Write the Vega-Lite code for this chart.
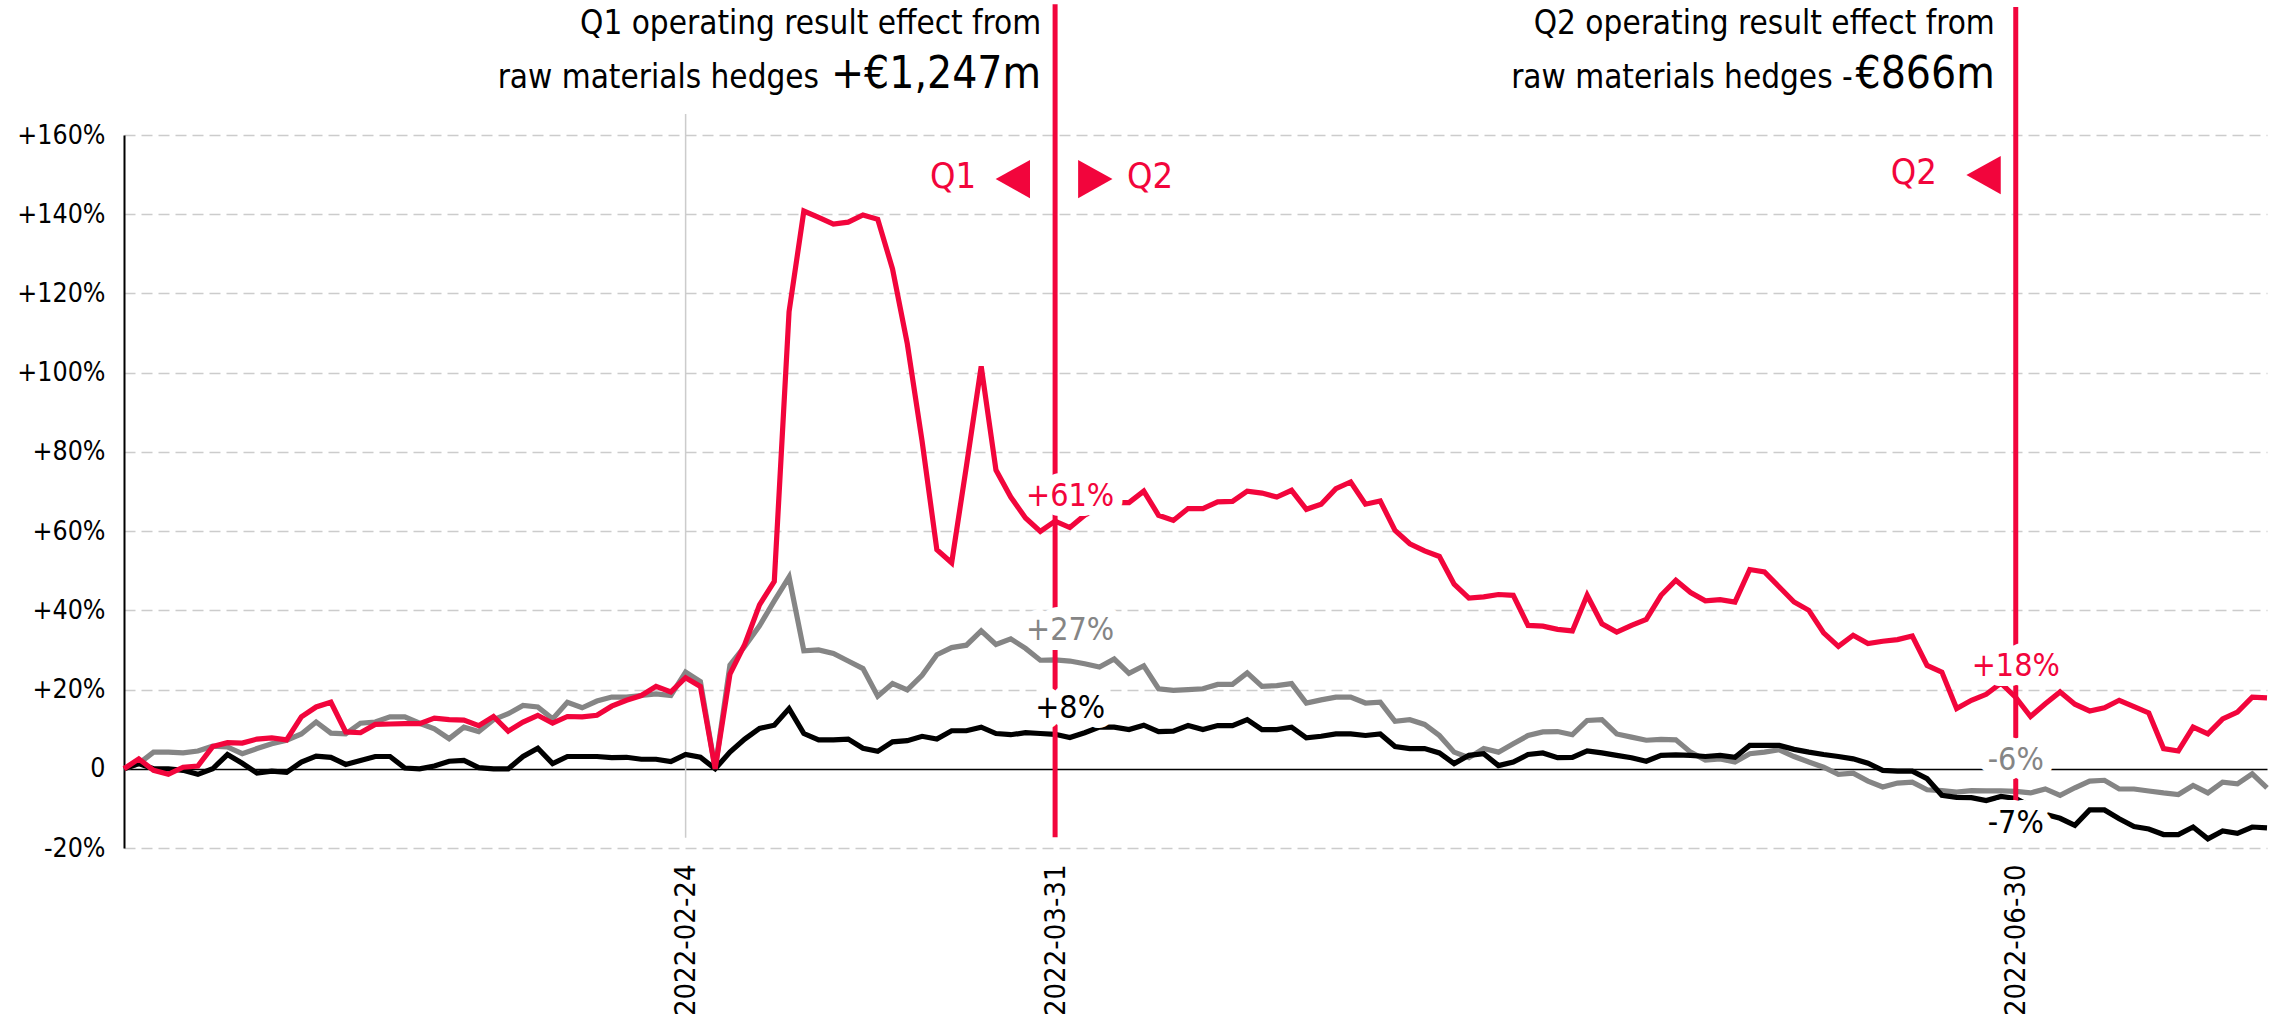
{
  "$schema": "https://vega.github.io/schema/vega-lite/v6.json",
  "width": 2143,
  "height": 713,
  "autosize": {"type": "none"},
  "padding": {"left": 124, "top": 135, "right": 15, "bottom": 172},
  "background": "white",
  "config": {
    "view": {"stroke": null},
    "font": "DejaVu Sans Condensed, Liberation Sans Narrow, DejaVu Sans",
    "text": {"font": "DejaVu Sans Condensed, Liberation Sans Narrow, DejaVu Sans"},
    "axis": {"labelFont": "DejaVu Sans Condensed, Liberation Sans Narrow, DejaVu Sans", "labelColor": "#000000", "ticks": false, "title": null}
  },
  "data": {"values": [
    {"d":"2022-01-03","r":0,"g":0,"b":0},
    {"d":"2022-01-04","r":2.5,"g":1.3,"b":1.3},
    {"d":"2022-01-05","r":-0.4,"g":4.2,"b":0},
    {"d":"2022-01-06","r":-1.4,"g":4.2,"b":0},
    {"d":"2022-01-07","r":0.4,"g":4.0,"b":-0.4},
    {"d":"2022-01-10","r":0.7,"g":4.5,"b":-1.4},
    {"d":"2022-01-11","r":5.6,"g":5.7,"b":0},
    {"d":"2022-01-12","r":6.6,"g":5.5,"b":3.6},
    {"d":"2022-01-13","r":6.5,"g":3.8,"b":1.4},
    {"d":"2022-01-14","r":7.5,"g":5.1,"b":-1.1},
    {"d":"2022-01-17","r":7.8,"g":6.3,"b":-0.6},
    {"d":"2022-01-18","r":7.3,"g":7.2,"b":-0.9},
    {"d":"2022-01-19","r":13.1,"g":8.8,"b":1.7},
    {"d":"2022-01-20","r":15.6,"g":11.8,"b":3.2},
    {"d":"2022-01-21","r":16.8,"g":9.0,"b":2.9},
    {"d":"2022-01-24","r":9.3,"g":8.8,"b":1.1},
    {"d":"2022-01-25","r":9.1,"g":11.5,"b":2.1},
    {"d":"2022-01-26","r":11.2,"g":11.8,"b":3.1},
    {"d":"2022-01-27","r":11.3,"g":13.1,"b":3.1},
    {"d":"2022-01-28","r":11.4,"g":13.1,"b":0.2},
    {"d":"2022-01-31","r":11.4,"g":11.5,"b":0},
    {"d":"2022-02-01","r":12.8,"g":10.1,"b":0.7},
    {"d":"2022-02-02","r":12.4,"g":7.6,"b":1.9},
    {"d":"2022-02-03","r":12.3,"g":10.5,"b":2.1},
    {"d":"2022-02-04","r":10.9,"g":9.4,"b":0.3},
    {"d":"2022-02-07","r":13.2,"g":12.4,"b":0},
    {"d":"2022-02-08","r":9.5,"g":13.9,"b":0},
    {"d":"2022-02-09","r":11.8,"g":16.0,"b":3.1},
    {"d":"2022-02-10","r":13.5,"g":15.6,"b":5.2},
    {"d":"2022-02-11","r":11.5,"g":12.6,"b":1.3},
    {"d":"2022-02-14","r":13.2,"g":16.8,"b":3.1},
    {"d":"2022-02-15","r":13.1,"g":15.4,"b":3.1},
    {"d":"2022-02-16","r":13.5,"g":17.1,"b":3.1},
    {"d":"2022-02-17","r":15.8,"g":18.1,"b":2.8},
    {"d":"2022-02-18","r":17.3,"g":18.1,"b":2.9},
    {"d":"2022-02-21","r":18.5,"g":18.5,"b":2.4},
    {"d":"2022-02-22","r":20.8,"g":18.9,"b":2.4},
    {"d":"2022-02-23","r":19.4,"g":18.5,"b":1.8},
    {"d":"2022-02-24","r":23.0,"g":24.4,"b":3.6},
    {"d":"2022-02-25","r":20.8,"g":22.0,"b":2.9},
    {"d":"2022-02-28","r":0,"g":0,"b":0},
    {"d":"2022-03-01","r":23.9,"g":26.2,"b":4.2},
    {"d":"2022-03-02","r":31.4,"g":30.9,"b":7.5},
    {"d":"2022-03-03","r":41.4,"g":36.1,"b":10.2},
    {"d":"2022-03-04","r":47.3,"g":42.4,"b":11.0},
    {"d":"2022-03-07","r":115.4,"g":48.4,"b":15.2},
    {"d":"2022-03-08","r":140.8,"g":29.8,"b":8.9},
    {"d":"2022-03-09","r":139.2,"g":30.0,"b":7.3},
    {"d":"2022-03-10","r":137.5,"g":29.1,"b":7.3},
    {"d":"2022-03-11","r":138.0,"g":27.2,"b":7.5},
    {"d":"2022-03-14","r":139.8,"g":25.3,"b":5.2},
    {"d":"2022-03-15","r":138.7,"g":18.3,"b":4.4},
    {"d":"2022-03-16","r":126.2,"g":21.5,"b":6.8},
    {"d":"2022-03-17","r":107.3,"g":19.9,"b":7.1},
    {"d":"2022-03-18","r":82.7,"g":23.6,"b":8.2},
    {"d":"2022-03-21","r":55.3,"g":28.8,"b":7.5},
    {"d":"2022-03-22","r":52.0,"g":30.6,"b":9.6},
    {"d":"2022-03-23","r":76.4,"g":31.2,"b":9.6},
    {"d":"2022-03-24","r":101.6,"g":34.8,"b":10.5},
    {"d":"2022-03-25","r":75.4,"g":31.4,"b":8.9},
    {"d":"2022-03-28","r":68.6,"g":32.8,"b":8.6},
    {"d":"2022-03-29","r":63.3,"g":30.4,"b":9.1},
    {"d":"2022-03-30","r":59.9,"g":27.4,"b":8.9},
    {"d":"2022-03-31","r":62.5,"g":27.5,"b":8.7},
    {"d":"2022-04-01","r":60.9,"g":27.2,"b":7.9},
    {"d":"2022-04-04","r":64.0,"g":26.5,"b":9.1},
    {"d":"2022-04-05","r":66.0,"g":25.7,"b":10.5},
    {"d":"2022-04-06","r":67.2,"g":27.7,"b":10.5},
    {"d":"2022-04-07","r":67.2,"g":24.1,"b":9.9},
    {"d":"2022-04-08","r":70.1,"g":26.0,"b":11.0},
    {"d":"2022-04-11","r":64.0,"g":20.2,"b":9.4},
    {"d":"2022-04-12","r":62.7,"g":19.8,"b":9.5},
    {"d":"2022-04-13","r":65.7,"g":20.0,"b":10.9},
    {"d":"2022-04-14","r":65.7,"g":20.2,"b":9.9},
    {"d":"2022-04-15","r":67.4,"g":21.3,"b":10.9},
    {"d":"2022-04-18","r":67.5,"g":21.3,"b":10.9},
    {"d":"2022-04-19","r":70.1,"g":24.2,"b":12.4},
    {"d":"2022-04-20","r":69.6,"g":20.8,"b":9.9},
    {"d":"2022-04-21","r":68.6,"g":21.0,"b":9.9},
    {"d":"2022-04-22","r":70.3,"g":21.5,"b":10.5},
    {"d":"2022-04-25","r":65.5,"g":16.6,"b":7.8},
    {"d":"2022-04-26","r":66.8,"g":17.4,"b":8.2},
    {"d":"2022-04-27","r":70.7,"g":18.1,"b":8.8},
    {"d":"2022-04-28","r":72.4,"g":18.1,"b":8.8},
    {"d":"2022-04-29","r":66.8,"g":16.6,"b":8.4},
    {"d":"2022-05-02","r":67.6,"g":16.8,"b":8.8},
    {"d":"2022-05-03","r":60.2,"g":12.0,"b":5.6},
    {"d":"2022-05-04","r":56.8,"g":12.4,"b":5.1},
    {"d":"2022-05-05","r":55.0,"g":11.2,"b":5.1},
    {"d":"2022-05-06","r":53.6,"g":8.4,"b":4.0},
    {"d":"2022-05-09","r":46.6,"g":4.2,"b":1.3},
    {"d":"2022-05-10","r":43.1,"g":2.8,"b":3.4},
    {"d":"2022-05-11","r":43.4,"g":5.1,"b":3.8},
    {"d":"2022-05-12","r":44.0,"g":4.2,"b":0.8},
    {"d":"2022-05-13","r":43.8,"g":6.3,"b":1.7},
    {"d":"2022-05-16","r":36.2,"g":8.4,"b":3.6},
    {"d":"2022-05-17","r":36.0,"g":9.3,"b":4.0},
    {"d":"2022-05-18","r":35.2,"g":9.4,"b":2.8},
    {"d":"2022-05-19","r":34.8,"g":8.6,"b":2.9},
    {"d":"2022-05-20","r":43.8,"g":12.2,"b":4.5},
    {"d":"2022-05-23","r":36.6,"g":12.4,"b":4.0},
    {"d":"2022-05-24","r":34.5,"g":8.8,"b":3.4},
    {"d":"2022-05-25","r":36.2,"g":8.0,"b":2.8},
    {"d":"2022-05-26","r":37.7,"g":7.2,"b":1.9},
    {"d":"2022-05-27","r":43.8,"g":7.4,"b":3.4},
    {"d":"2022-05-30","r":47.6,"g":7.3,"b":3.5},
    {"d":"2022-05-31","r":44.5,"g":4.2,"b":3.4},
    {"d":"2022-06-01","r":42.4,"g":2.2,"b":3.1},
    {"d":"2022-06-02","r":42.7,"g":2.5,"b":3.4},
    {"d":"2022-06-03","r":42.1,"g":1.7,"b":2.9},
    {"d":"2022-06-06","r":50.3,"g":3.8,"b":5.9},
    {"d":"2022-06-07","r":49.7,"g":4.2,"b":5.9},
    {"d":"2022-06-08","r":45.9,"g":4.8,"b":5.9},
    {"d":"2022-06-09","r":42.1,"g":3.1,"b":4.9},
    {"d":"2022-06-10","r":40.0,"g":1.7,"b":4.2},
    {"d":"2022-06-13","r":34.3,"g":0.4,"b":3.6},
    {"d":"2022-06-14","r":30.9,"g":-1.4,"b":3.1},
    {"d":"2022-06-15","r":33.7,"g":-1.1,"b":2.5},
    {"d":"2022-06-16","r":31.6,"g":-3.1,"b":1.4},
    {"d":"2022-06-17","r":32.2,"g":-4.6,"b":-0.4},
    {"d":"2022-06-20","r":32.6,"g":-3.6,"b":-0.6},
    {"d":"2022-06-21","r":33.5,"g":-3.4,"b":-0.6},
    {"d":"2022-06-22","r":26.1,"g":-5.3,"b":-2.5},
    {"d":"2022-06-23","r":24.4,"g":-5.5,"b":-6.7},
    {"d":"2022-06-24","r":15.2,"g":-5.9,"b":-7.2},
    {"d":"2022-06-27","r":17.3,"g":-5.5,"b":-7.3},
    {"d":"2022-06-28","r":18.8,"g":-5.6,"b":-8.0},
    {"d":"2022-06-29","r":21.6,"g":-5.6,"b":-7.0},
    {"d":"2022-06-30","r":18.0,"g":-5.7,"b":-7.5},
    {"d":"2022-07-01","r":13.2,"g":-6.1,"b":-9.5},
    {"d":"2022-07-04","r":16.4,"g":-5.1,"b":-11.5},
    {"d":"2022-07-05","r":19.4,"g":-6.7,"b":-12.5},
    {"d":"2022-07-06","r":16.3,"g":-4.8,"b":-14.3},
    {"d":"2022-07-07","r":14.6,"g":-3.1,"b":-10.4},
    {"d":"2022-07-08","r":15.4,"g":-2.9,"b":-10.4},
    {"d":"2022-07-11","r":17.3,"g":-5.1,"b":-12.6},
    {"d":"2022-07-12","r":15.7,"g":-5.1,"b":-14.6},
    {"d":"2022-07-13","r":14.1,"g":-5.6,"b":-15.2},
    {"d":"2022-07-14","r":5.1,"g":-6.1,"b":-16.6},
    {"d":"2022-07-15","r":4.5,"g":-6.5,"b":-16.6},
    {"d":"2022-07-18","r":10.5,"g":-4.2,"b":-14.7},
    {"d":"2022-07-19","r":8.8,"g":-6.1,"b":-17.7},
    {"d":"2022-07-20","r":12.6,"g":-3.4,"b":-15.7},
    {"d":"2022-07-21","r":14.3,"g":-3.8,"b":-16.3},
    {"d":"2022-07-22","r":18.1,"g":-1.3,"b":-14.7},
    {"d":"2022-07-25","r":17.9,"g":-4.8,"b":-14.9}
  ]},
  "encoding": {
    "x": {
      "field": "d", "type": "ordinal",
      "scale": {"type": "point", "padding": 0},
      "axis": {
        "values": ["2022-02-24", "2022-03-31", "2022-06-30"],
        "labelAngle": -90, "labelFontSize": 29, "labelPadding": 16,
        "domain": false, "grid": false, "ticks": false, "title": null
      }
    },
    "y": {
      "field": "v", "type": "quantitative",
      "scale": {"domain": [-20, 160], "nice": false, "zero": false},
      "axis": {
        "values": [-20, 0, 20, 40, 60, 80, 100, 120, 140, 160],
        "labelExpr": "datum.value > 0 ? '+' + datum.value + '%' : (datum.value == 0 ? '0' : datum.value + '%')",
        "labelFontSize": 26.5, "labelPadding": 19,
        "grid": true,
        "gridColor": {"condition": {"test": "datum.value == 0", "value": "#000000"}, "value": "#cccccc"},
        "gridDash": {"condition": {"test": "datum.value == 0", "value": []}, "value": [11, 6]},
        "gridWidth": {"condition": {"test": "datum.value == 0", "value": 1.6}, "value": 1.3},
        "domain": true, "domainColor": "#000000", "domainWidth": 2,
        "ticks": false, "title": null
      }
    }
  },
  "layer": [
    {
      "data": {"values": [{"d": "2022-02-24", "v": 165.3, "v2": -17.4}]},
      "mark": {"type": "rule", "color": "#cccccc", "strokeWidth": 1.5},
      "encoding": {"y2": {"field": "v2"}}
    },
    {
      "transform": [{"fold": ["g"], "as": ["s", "v"]}],
      "mark": {"type": "line", "color": "#858585", "strokeWidth": 5.2},
      "encoding": {}
    },
    {
      "transform": [{"fold": ["b"], "as": ["s", "v"]}],
      "mark": {"type": "line", "color": "#000000", "strokeWidth": 5.2},
      "encoding": {}
    },
    {
      "transform": [{"fold": ["r"], "as": ["s", "v"]}],
      "mark": {"type": "line", "color": "#f2053c", "strokeWidth": 5.2},
      "encoding": {}
    },
    {
      "data": {"values": [
        {"d": "2022-03-31", "v": 193, "v2": -17.3},
        {"d": "2022-06-30", "v": 192.3, "v2": -17.3}
      ]},
      "mark": {"type": "rule", "color": "#f2053c", "strokeWidth": 5},
      "encoding": {"y2": {"field": "v2"}}
    },
    {
      "data": {"values": [
        {"d": "2022-03-31", "v": 68.9, "t": "+61%", "s": "red"},
        {"d": "2022-03-31", "v": 35.0, "t": "+27%", "s": "gray"},
        {"d": "2022-03-31", "v": 15.4, "t": "+8%", "s": "black"}
      ]},
      "mark": {"type": "text", "fontSize": 32, "dx": 15, "align": "center", "baseline": "middle", "color": "white", "stroke": "white", "strokeWidth": 20, "strokeJoin": "round"},
      "encoding": {"text": {"field": "t"}}
    },
    {
      "data": {"values": [
        {"d": "2022-06-30", "v": 26.0, "t": "+18%", "s": "red"},
        {"d": "2022-06-30", "v": 2.2, "t": "-6%", "s": "gray"},
        {"d": "2022-06-30", "v": -13.7, "t": "-7%", "s": "black"}
      ]},
      "mark": {"type": "text", "fontSize": 32, "dx": 0, "align": "center", "baseline": "middle", "color": "white", "stroke": "white", "strokeWidth": 20, "strokeJoin": "round"},
      "encoding": {"text": {"field": "t"}}
    },
    {
      "data": {"values": [
        {"d": "2022-03-31", "v": 68.9, "t": "+61%", "s": "red"},
        {"d": "2022-03-31", "v": 35.0, "t": "+27%", "s": "gray"},
        {"d": "2022-03-31", "v": 15.4, "t": "+8%", "s": "black"}
      ]},
      "mark": {"type": "text", "fontSize": 32, "dx": 15, "align": "center", "baseline": "middle"},
      "encoding": {
        "text": {"field": "t"},
        "color": {"field": "s", "type": "nominal", "scale": {"domain": ["red", "gray", "black"], "range": ["#f2053c", "#858585", "#000000"]}, "legend": null}
      }
    },
    {
      "data": {"values": [
        {"d": "2022-06-30", "v": 26.0, "t": "+18%", "s": "red"},
        {"d": "2022-06-30", "v": 2.2, "t": "-6%", "s": "gray"},
        {"d": "2022-06-30", "v": -13.7, "t": "-7%", "s": "black"}
      ]},
      "mark": {"type": "text", "fontSize": 32, "dx": 0, "align": "center", "baseline": "middle"},
      "encoding": {
        "text": {"field": "t"},
        "color": {"field": "s", "type": "nominal", "scale": {"domain": ["red", "gray", "black"], "range": ["#f2053c", "#858585", "#000000"]}, "legend": null}
      }
    },
    {
      "data": {"values": [{"d": "2022-03-31", "v": 149.5, "t": "Q1"}]},
      "mark": {"type": "text", "fontSize": 36, "dx": -79, "align": "right", "baseline": "middle", "color": "#f2053c"},
      "encoding": {"text": {"field": "t"}}
    },
    {
      "data": {"values": [{"d": "2022-03-31", "v": 149.5, "t": "◀"}]},
      "mark": {"type": "text", "fontSize": 50, "dx": -25, "align": "right", "baseline": "middle", "color": "#f2053c"},
      "encoding": {"text": {"field": "t"}}
    },
    {
      "data": {"values": [{"d": "2022-03-31", "v": 149.5, "t": "▶"}]},
      "mark": {"type": "text", "fontSize": 50, "dx": 23, "align": "left", "baseline": "middle", "color": "#f2053c"},
      "encoding": {"text": {"field": "t"}}
    },
    {
      "data": {"values": [{"d": "2022-03-31", "v": 149.5, "t": "Q2"}]},
      "mark": {"type": "text", "fontSize": 36, "dx": 72, "align": "left", "baseline": "middle", "color": "#f2053c"},
      "encoding": {"text": {"field": "t"}}
    },
    {
      "data": {"values": [{"d": "2022-06-30", "v": 150.5, "t": "Q2"}]},
      "mark": {"type": "text", "fontSize": 36, "dx": -79, "align": "right", "baseline": "middle", "color": "#f2053c"},
      "encoding": {"text": {"field": "t"}}
    },
    {
      "data": {"values": [{"d": "2022-06-30", "v": 150.5, "t": "◀"}]},
      "mark": {"type": "text", "fontSize": 50, "dx": -15, "align": "right", "baseline": "middle", "color": "#f2053c"},
      "encoding": {"text": {"field": "t"}}
    },
    {
      "data": {"values": [{"d": "2022-03-31", "v": 185.5, "t": "Q1 operating result effect from"}]},
      "mark": {"type": "text", "fontSize": 33, "dx": -14, "align": "right", "baseline": "alphabetic", "color": "#000000"},
      "encoding": {"text": {"field": "t"}}
    },
    {
      "data": {"values": [{"d": "2022-03-31", "v": 171.9, "t": "raw materials hedges"}]},
      "mark": {"type": "text", "fontSize": 33, "dx": -236, "align": "right", "baseline": "alphabetic", "color": "#000000"},
      "encoding": {"text": {"field": "t"}}
    },
    {
      "data": {"values": [{"d": "2022-03-31", "v": 171.9, "t": "+€1,247m"}]},
      "mark": {"type": "text", "fontSize": 44, "dx": -14, "align": "right", "baseline": "alphabetic", "color": "#000000"},
      "encoding": {"text": {"field": "t"}}
    },
    {
      "data": {"values": [{"d": "2022-06-30", "v": 185.5, "t": "Q2 operating result effect from"}]},
      "mark": {"type": "text", "fontSize": 33, "dx": -21, "align": "right", "baseline": "alphabetic", "color": "#000000"},
      "encoding": {"text": {"field": "t"}}
    },
    {
      "data": {"values": [{"d": "2022-06-30", "v": 171.9, "t": "raw materials hedges -"}]},
      "mark": {"type": "text", "fontSize": 33, "dx": -163, "align": "right", "baseline": "alphabetic", "color": "#000000"},
      "encoding": {"text": {"field": "t"}}
    },
    {
      "data": {"values": [{"d": "2022-06-30", "v": 171.9, "t": "€866m"}]},
      "mark": {"type": "text", "fontSize": 44, "dx": -21, "align": "right", "baseline": "alphabetic", "color": "#000000"},
      "encoding": {"text": {"field": "t"}}
    }
  ]
}
